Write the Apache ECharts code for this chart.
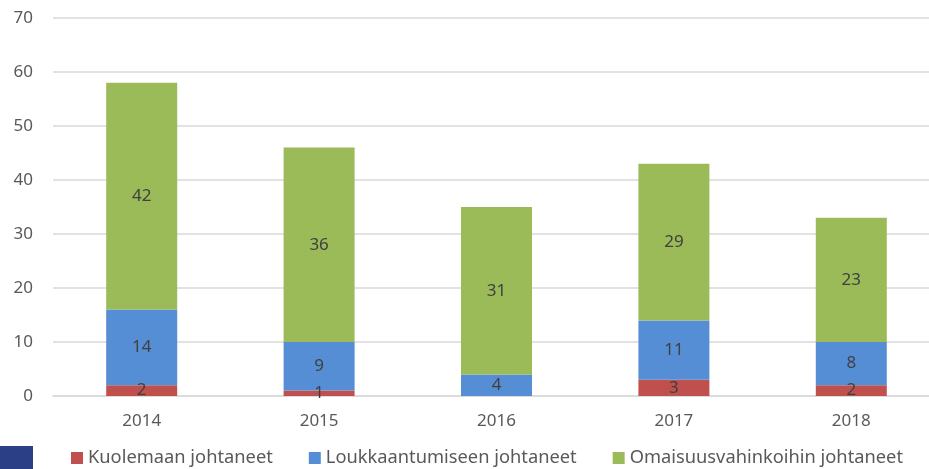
<!DOCTYPE html>
<html>
<head>
<meta charset="utf-8" />
<script src="https://cdn.jsdelivr.net/npm/echarts@6/dist/echarts.min.js"></script>
<style>
  html, body { margin: 0; padding: 0; background: #fff; }
  #chart { width: 929px; height: 469px; }
</style>
</head>
<body>
<div id="chart"></div>
<script>
// vuodet ja sarjat
const years = ["2014", "2015", "2016", "2017", "2018"];
const kuolemaan = [2, 1, 0, 3, 2];
const loukkaantumiseen = [14, 9, 4, 11, 8];
const omaisuusvahinkoihin = [42, 36, 31, 29, 23];
const yTicks = [0, 10, 20, 30, 40, 50, 60, 70];

const font = "Noto Sans";
const chart = echarts.init(document.getElementById("chart"));

function barSeries(name, data, color) {
  return {
    name: name,
    type: "bar",
    stack: "total",
    barWidth: 71,
    data: data,
    itemStyle: { color: color },
    label: {
      show: true,
      position: "inside",
      color: "#404040",
      fontFamily: font,
      fontSize: 17,
      formatter: (p) => (p.value ? p.value : ""),
    },
  };
}

chart.setOption({
  animation: false,
  textStyle: { fontFamily: font },
  grid: {
    left: 53,
    top: 18,
    width: 887,
    height: 378,
    outerBoundsMode: "none",
  },
  xAxis: {
    type: "category",
    data: years,
    axisTick: { show: false },
    axisLine: { lineStyle: { color: "#D9D9D9", width: 1.5 } },
    axisLabel: { color: "#595959", fontSize: 17, margin: 17, fontFamily: font },
  },
  yAxis: {
    type: "value",
    min: yTicks[0],
    max: yTicks[yTicks.length - 1],
    interval: 10,
    axisLine: { show: false },
    axisTick: { show: false },
    splitLine: { lineStyle: { color: "#D9D9D9", width: 1.5 } },
    axisLabel: { color: "#595959", fontSize: 17, margin: 20, fontFamily: font },
  },
  legend: {
    top: 449,
    left: 71,
    padding: 0,
    itemWidth: 12,
    itemHeight: 12,
    itemGap: 36,
    icon: "rect",
    textStyle: { color: "#595959", fontSize: 18.3, fontFamily: font },
    data: ["Kuolemaan johtaneet", "Loukkaantumiseen johtaneet", "Omaisuusvahinkoihin johtaneet"],
  },
  graphic: [
    {
      type: "rect",
      left: 0,
      top: 446,
      shape: { width: 33, height: 23 },
      style: { fill: "#2B3F86" },
    },
  ],
  series: [
    barSeries("Kuolemaan johtaneet", kuolemaan, "#C0504D"),
    barSeries("Loukkaantumiseen johtaneet", loukkaantumiseen, "#558ED5"),
    barSeries("Omaisuusvahinkoihin johtaneet", omaisuusvahinkoihin, "#9BBB59"),
  ],
});
</script>
</body>
</html>
